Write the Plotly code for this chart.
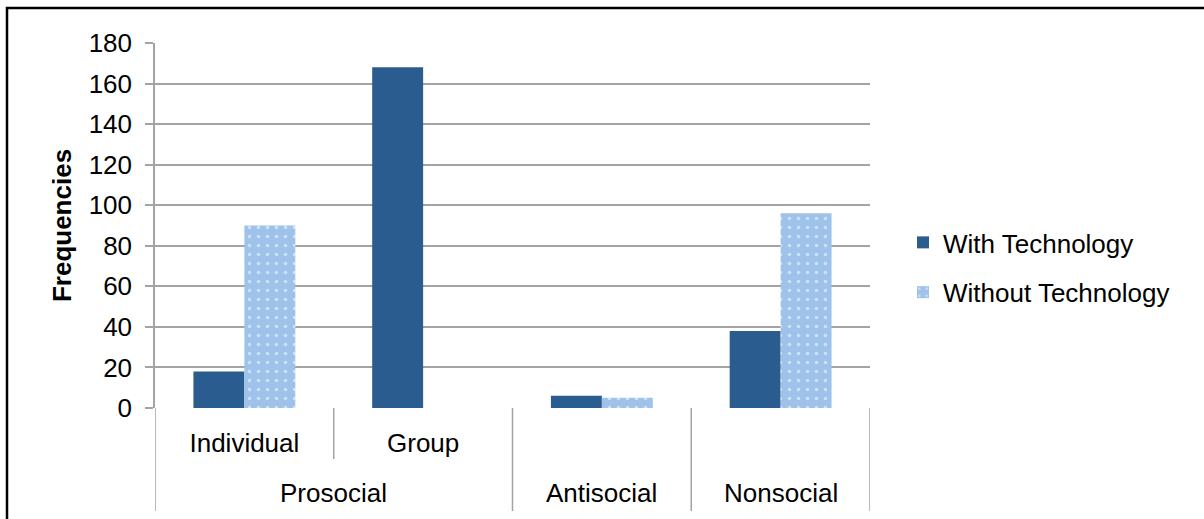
import plotly.graph_objects as go

# Frequencies of social behaviour, with and without technology
groups = ["Prosocial", "Prosocial", "Antisocial", "Nonsocial"]
subcats = ["Individual", "Group", "", ""]
with_tech = [18, 168, 6, 38]
without_tech = [90, 0, 5, 96]
y_ticks = list(range(0, 181, 20))

DARK = "#2b5c8f"
LIGHT = "#9ec2e9"
GRID = "#a3a3a3"
FONT = "Arial, Liberation Sans, sans-serif"
FS = 26

pos = list(range(len(groups)))

fig = go.Figure()
fig.add_trace(go.Bar(
    x=pos, y=with_tech, name="With Technology", legendgroup="a",
    marker=dict(color=DARK, line=dict(width=0)),
))
fig.add_trace(go.Bar(
    x=pos, y=without_tech, name="Without Technology", legendgroup="b",
    marker=dict(color=LIGHT, line=dict(width=0),
                pattern=dict(shape=".", fgcolor="white", bgcolor=LIGHT,
                             size=9, solidity=0.12, fillmode="overlay")),
))

# plot-area geometry in pixels, used for converting to paper coordinates
H_PLOT = 365.0
W_PLOT = 715.0

shapes = []
# inner dividers between subcategories of the same group
for i in range(len(groups) - 1):
    if groups[i] == groups[i + 1]:
        shapes.append(dict(type="line", xref="x", yref="paper",
                           x0=i + 0.5, x1=i + 0.5, y0=0, y1=-51 / H_PLOT,
                           line=dict(color=GRID, width=1.5)))
# outer dividers at group boundaries
bounds = [-0.5] + [i + 0.5 for i in range(len(groups) - 1) if groups[i] != groups[i + 1]] + [len(groups) - 0.5]
for b in bounds:
    shapes.append(dict(type="line", xref="x", yref="paper",
                       x0=b, x1=b, y0=0, y1=-103 / H_PLOT,
                       line=dict(color=GRID, width=1.5)))
# outer frame
shapes.append(dict(type="rect", xref="paper", yref="paper",
                   x0=-148 / W_PLOT, x1=1.5, y0=-0.4, y1=400 / H_PLOT,
                   line=dict(color="black", width=2.5), fillcolor="rgba(0,0,0,0)"))

# outer group labels
annotations = []
seen = []
for g in groups:
    if g not in seen:
        seen.append(g)
for g in seen:
    idx = [i for i, gg in enumerate(groups) if gg == g]
    annotations.append(dict(text=g, xref="x", yref="paper",
                            x=sum(idx) / len(idx), y=-85 / H_PLOT,
                            xanchor="center", yanchor="middle", showarrow=False,
                            font=dict(family=FONT, size=FS, color="black")))

tick_pos = [i for i, s in enumerate(subcats) if s]
tick_txt = [s for s in subcats if s]

fig.update_layout(
    width=1204, height=519,
    margin=dict(l=155, r=334, t=43, b=111, pad=0),
    paper_bgcolor="white", plot_bgcolor="white",
    font=dict(family=FONT, size=FS, color="black"),
    barmode="group", bargap=0.43, bargroupgap=0,
    shapes=shapes, annotations=annotations,
    showlegend=True,
    legend=dict(x=(903 - 155) / W_PLOT, xanchor="left", y=0.385, yanchor="middle",
                traceorder="grouped", tracegroupgap=13,
                font=dict(family=FONT, size=FS, color="black"),
                bgcolor="rgba(0,0,0,0)", borderwidth=0),
    xaxis=dict(range=[-0.5, len(groups) - 0.5], tickvals=tick_pos, ticktext=tick_txt,
               showgrid=False, zeroline=False, showline=False, ticks="",
               ticklabelstandoff=17, fixedrange=True),
    yaxis=dict(range=[0, 180], tickvals=y_ticks, showgrid=True, gridcolor=GRID, gridwidth=1.5,
               zeroline=False, showline=True, linecolor=GRID, linewidth=1.5,
               ticks="outside", ticklen=8, tickcolor=GRID, tickwidth=1.5,
               ticklabelstandoff=8,
               title=dict(text="<b>Frequencies</b>", standoff=10,
                          font=dict(family=FONT, size=FS, color="black"))),
)

fig.write_html("out.html")
